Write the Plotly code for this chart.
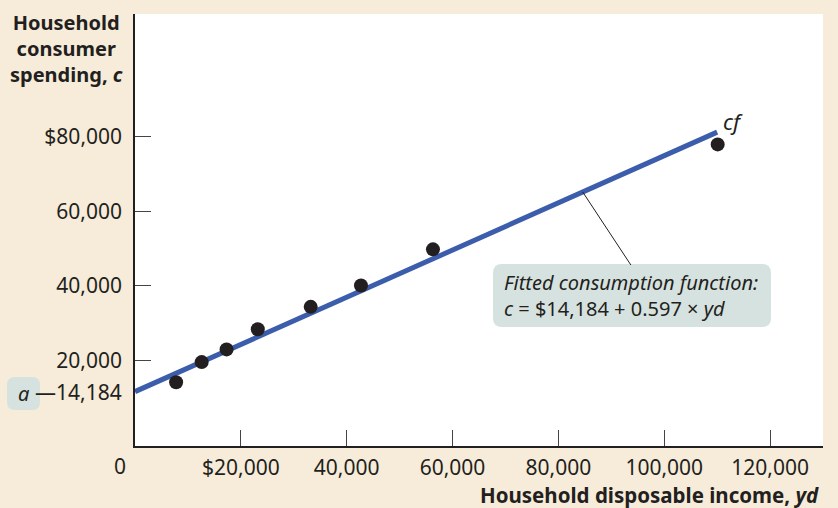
import plotly.graph_objects as go

# ---- data ----
income = [7770, 12600, 17300, 23200, 33200, 42700, 56300, 110100]
spending = [14200, 19600, 23000, 28400, 34400, 40100, 49800, 77900]

fit_income = [0, 110000]
fit_spending = [11700, 81200]

x_tickvals = [20000, 40000, 60000, 80000, 100000, 120000]
x_ticktext = ["$20,000", "40,000", "60,000", "80,000", "100,000", "120,000"]
y_tickvals = [20000, 40000, 60000, 80000]
y_ticktext = ["20,000", "40,000", "60,000", "$80,000"]

intercept_label = "14,184"
equation_label = "<i>c</i> = $14,184 + 0.597 × <i>yd</i>"

# ---- layout geometry ----
W, H = 838, 508
L, R, T, B = 135, 15, 14, 62
PW, PH = W - L - R, H - T - B

def px(x):
    return (x - L) / PW

def py(y):
    return (H - B - y) / PH

def rounded_rect(x0, y0, x1, y1, r):
    rx, ry = r / PW, r / PH
    X0, X1 = px(x0), px(x1)
    Y0, Y1 = py(y1), py(y0)  # Y0 bottom, Y1 top in paper
    return (f"M {X0+rx},{Y1} L {X1-rx},{Y1} Q {X1},{Y1} {X1},{Y1-ry} "
            f"L {X1},{Y0+ry} Q {X1},{Y0} {X1-rx},{Y0} "
            f"L {X0+rx},{Y0} Q {X0},{Y0} {X0},{Y0+ry} "
            f"L {X0},{Y1-ry} Q {X0},{Y1} {X0+rx},{Y1} Z")

FONT = "Noto Sans"
INK = "#231f20"
BOXC = "#d6e2df"
PAPER = "#f6ecd9"

fig = go.Figure()
fig.add_trace(go.Scatter(x=fit_income, y=fit_spending, mode="lines",
                         line=dict(color="#3b5dab", width=5),
                         hoverinfo="skip", showlegend=False))
fig.add_trace(go.Scatter(x=income, y=spending, mode="markers",
                         marker=dict(color=INK, size=14),
                         showlegend=False))

shapes = [
    dict(type="path", xref="paper", yref="paper",
         path=rounded_rect(493, 264, 771, 327, 9),
         fillcolor=BOXC, line=dict(width=0), layer="above"),
    dict(type="path", xref="paper", yref="paper",
         path=rounded_rect(7, 377, 40, 410, 8),
         fillcolor=BOXC, line=dict(width=0), layer="above"),
    dict(type="line", xref="x", yref="y",
         x0=84600, y0=fit_spending[0] + (fit_spending[1] - fit_spending[0]) * 84600 / fit_income[1],
         x1=93700, y1=45600,
         line=dict(color=INK, width=1)),
]

annotations = [
    dict(text="<b>Household<br>consumer<br>spending, <i>c</i></b>",
         xref="paper", yref="paper", x=px(66), y=py(48),
         xanchor="center", yanchor="middle", showarrow=False, align="center",
         font=dict(family=FONT, size=20, color=INK)),
    dict(text="<b>Household disposable income, <i>yd</i></b>",
         xref="paper", yref="paper", x=px(821), y=py(495),
         xanchor="right", yanchor="middle", showarrow=False,
         font=dict(family=FONT, size=20.5, color=INK)),
    dict(text="0", xref="paper", yref="paper", x=px(120), y=py(466),
         xanchor="center", yanchor="middle", showarrow=False,
         font=dict(family=FONT, size=21, color=INK)),
    dict(text="—" + intercept_label, xref="paper", yref="y", x=px(124),
         y=fit_spending[0], xanchor="right", yanchor="middle", showarrow=False,
         font=dict(family=FONT, size=21, color=INK)),
    dict(text="<i>a</i>", xref="paper", yref="paper", x=px(23.5), y=py(393),
         xanchor="center", yanchor="middle", showarrow=False,
         font=dict(family=FONT, size=20, color=INK)),
    dict(text="<i>Fitted consumption function:</i><br>" + equation_label,
         xref="paper", yref="paper", x=px(502), y=py(295.5),
         xanchor="left", yanchor="middle", showarrow=False, align="left",
         font=dict(family=FONT, size=20, color=INK)),
    dict(text="<i>cf</i>", xref="paper", yref="paper", x=px(733), y=py(121),
         xanchor="center", yanchor="middle", showarrow=False,
         font=dict(family=FONT, size=22, color=INK)),
]

fig.update_layout(
    width=W, height=H,
    margin=dict(l=L, r=R, t=T, b=B),
    paper_bgcolor=PAPER, plot_bgcolor="white",
    font=dict(family=FONT, size=21, color=INK),
    shapes=shapes, annotations=annotations,
    xaxis=dict(range=[0, 130000], showgrid=False, zeroline=False,
               showline=True, linecolor=INK, linewidth=1.5,
               ticks="inside", ticklen=16, tickcolor="#444", tickwidth=1.2,
               tickvals=x_tickvals, ticktext=x_ticktext,
               ticklabelstandoff=2,
               tickfont=dict(family=FONT, size=21, color=INK)),
    yaxis=dict(range=[-2870, 112830], showgrid=False, zeroline=False,
               showline=True, linecolor=INK, linewidth=1.5,
               ticks="inside", ticklen=16, tickcolor="#444", tickwidth=1.2,
               tickvals=y_tickvals, ticktext=y_ticktext,
               ticklabelstandoff=7,
               tickfont=dict(family=FONT, size=21, color=INK)),
)

fig.write_html(
    "out.html",
    config={"displayModeBar": False},
    post_script="document.body.style.margin='0';"
                "document.body.style.background='" + PAPER + "';",
)
